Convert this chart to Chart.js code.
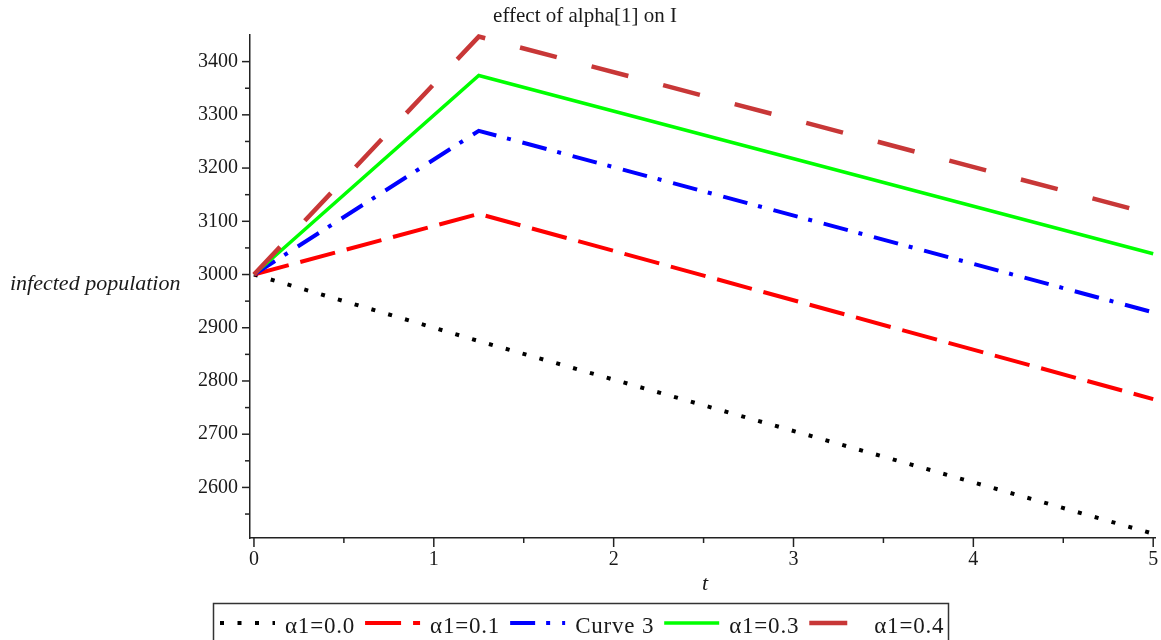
<!DOCTYPE html>
<html>
<head>
<meta charset="utf-8">
<script src="https://cdn.jsdelivr.net/npm/chart.js@4"></script>
<style>
  body { margin: 0; background: #fff; }
  canvas { display: block; }
</style>
</head>
<body>
<canvas id="alphaChart" width="1161" height="640"></canvas>
<script>
// time points and infected population for each alpha[1] value
const tValues = [0, 1.25, 5];
const alpha00 = [3000, 2875, 2513];
const alpha01 = [3000, 3114, 2766];
const curve3 = [3000, 3270, 2929];
const alpha03 = [3000, 3374, 3039];
const alpha04 = [3000, 3447, 3113];

const seriesLabels = ['α1=0.0', 'α1=0.1', 'Curve 3', 'α1=0.3', 'α1=0.4'];

const xTicks = [0, 1, 2, 3, 4, 5];
const xMinorTicks = [0.5, 1.5, 2.5, 3.5, 4.5];
const yTicks = [2600, 2700, 2800, 2900, 3000, 3100, 3200, 3300, 3400];
const yMinorTicks = [2550, 2650, 2750, 2850, 2950, 3050, 3150, 3250, 3350];

const serif = '"Liberation Serif", "Times New Roman", serif';
const axisColor = '#222';

function points(ys) {
    return tValues.map((t, i) => ({ x: t, y: ys[i] }));
}

function line(label, ys, color, width, dash, order) {
    return {
        label: label,
        data: points(ys),
        borderColor: color,
        backgroundColor: color,
        borderWidth: width,
        borderDash: dash,
        borderCapStyle: 'butt',
        pointRadius: 0,
        tension: 0,
        fill: false,
        clip: false,
        order: order
    };
}

// title, axis labels, tick marks and the boxed legend
const decorations = {
    id: 'decorations',
    afterDraw(chart) {
        const ctx = chart.ctx;
        const area = chart.chartArea;
        const xs = chart.scales.x;
        const ys = chart.scales.y;
        ctx.save();

        // tick marks
        ctx.strokeStyle = axisColor;
        ctx.lineWidth = 1.5;
        const tick = (x1, y1, x2, y2) => {
            ctx.beginPath();
            ctx.moveTo(x1, y1);
            ctx.lineTo(x2, y2);
            ctx.stroke();
        };
        yTicks.forEach(v => { const y = ys.getPixelForValue(v); tick(area.left - 8, y, area.left, y); });
        yMinorTicks.forEach(v => { const y = ys.getPixelForValue(v); tick(area.left - 5, y, area.left, y); });
        xTicks.forEach(v => { const x = xs.getPixelForValue(v); tick(x, area.bottom, x, area.bottom + 9); });
        xMinorTicks.forEach(v => { const x = xs.getPixelForValue(v); tick(x, area.bottom, x, area.bottom + 5); });

        // title
        ctx.fillStyle = '#1a1a1a';
        ctx.font = '21px ' + serif;
        ctx.textAlign = 'center';
        ctx.textBaseline = 'alphabetic';
        ctx.fillText('effect of alpha[1] on I', 585, 22);

        // axis titles
        ctx.font = 'italic 22px ' + serif;
        ctx.textAlign = 'left';
        ctx.fillText('infected population', 10, 290);
        ctx.textAlign = 'center';
        ctx.fillText('t', 705, 590);

        // legend
        ctx.strokeStyle = '#333';
        ctx.lineWidth = 1.5;
        ctx.strokeRect(213.5, 603.5, 735, 45);
        ctx.font = '23px ' + serif;
        ctx.letterSpacing = '0.8px';
        ctx.textAlign = 'left';
        let x = 220;
        chart.data.datasets.forEach(ds => {
            ctx.save();
            ctx.strokeStyle = ds.borderColor;
            ctx.lineWidth = ds.borderWidth;
            ctx.setLineDash(ds.borderDash);
            ctx.lineCap = 'butt';
            ctx.beginPath();
            ctx.moveTo(x, 623);
            ctx.lineTo(x + 55, 623);
            ctx.stroke();
            ctx.restore();
            ctx.fillStyle = '#1a1a1a';
            ctx.fillText(ds.label, x + 65, 633);
            x += 65 + ctx.measureText(ds.label).width + 10;
        });
        ctx.restore();
    }
};

const ctx = document.getElementById('alphaChart').getContext('2d');
new Chart(ctx, {
    type: 'line',
    data: {
        datasets: [
            line(seriesLabels[0], alpha00, '#000000', 4, [4, 13.5], 5),
            line(seriesLabels[1], alpha01, '#ff0000', 4, [36, 12], 4),
            line(seriesLabels[2], curve3, '#0000ff', 4, [25, 11, 4, 12], 3),
            line(seriesLabels[3], alpha03, '#00ff00', 3.5, [], 2),
            line(seriesLabels[4], alpha04, '#c83737', 4.5, [38, 36], 1)
        ]
    },
    options: {
        responsive: false,
        animation: false,
        devicePixelRatio: 1,
        layout: { padding: { top: 35, right: 6, left: 0, bottom: 0 } },
        plugins: {
            legend: { display: false },
            tooltip: { enabled: false }
        },
        scales: {
            x: {
                type: 'linear',
                min: -0.022,
                max: 5.01,
                afterBuildTicks: s => { s.ticks = xTicks.map(v => ({ value: v })); },
                afterFit: s => {
                    s.height = 102;
                    s.paddingLeft = 0;
                    s.paddingRight = 0;
                },
                grid: { display: false, drawTicks: false },
                border: { display: true, color: axisColor, width: 1.5 },
                ticks: {
                    font: { family: serif, size: 20 },
                    color: '#1a1a1a',
                    padding: 10,
                    maxRotation: 0,
                    autoSkip: false,
                    callback: v => String(v)
                }
            },
            y: {
                type: 'linear',
                min: 2505,
                max: 3450,
                afterBuildTicks: s => { s.ticks = yTicks.map(v => ({ value: v })); },
                afterFit: s => { s.width = 250; },
                grid: { display: false, drawTicks: false },
                border: { display: true, color: axisColor, width: 1.5 },
                ticks: {
                    font: { family: serif, size: 20 },
                    color: '#1a1a1a',
                    padding: 12,
                    autoSkip: false,
                    callback: v => String(v)
                }
            }
        }
    },
    plugins: [decorations]
});
</script>
</body>
</html>
